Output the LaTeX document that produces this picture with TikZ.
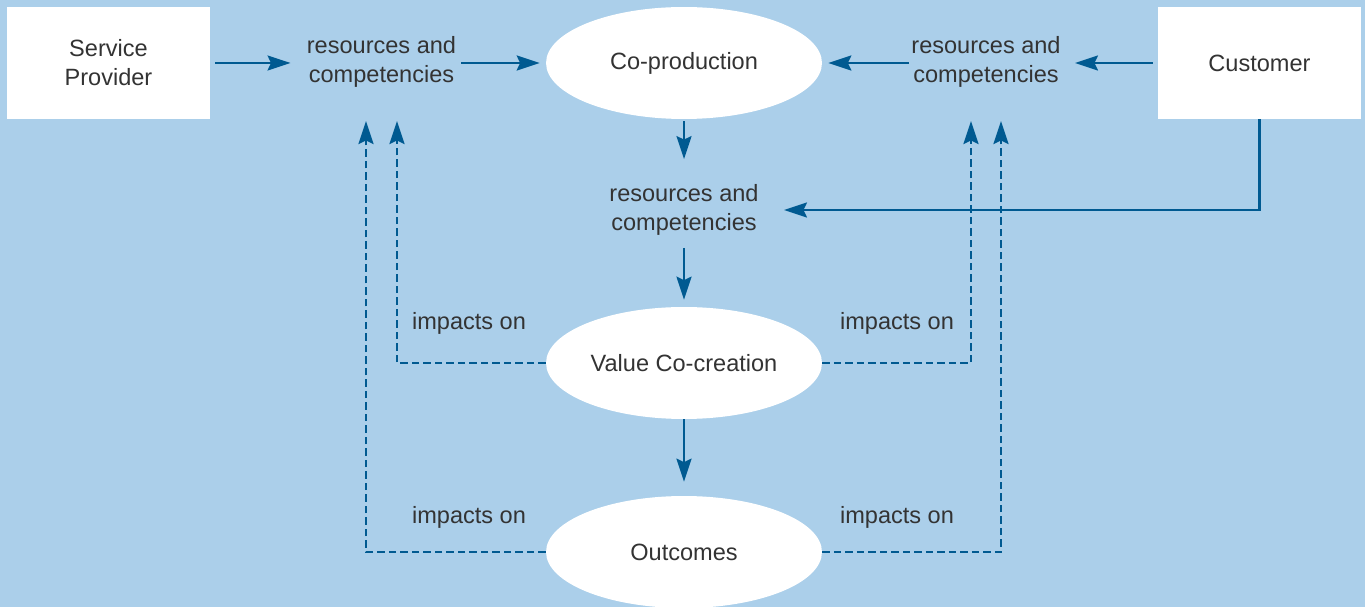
\documentclass[tikz,border=0pt]{standalone}
\usepackage{fontspec}
\setmainfont{Liberation Sans}
\usepackage{tikz}
\usetikzlibrary{arrows.meta, positioning, shapes.geometric}
\definecolor{bgblue}{HTML}{ABCFEA}
\definecolor{flowblue}{HTML}{005A91}
\definecolor{darktext}{HTML}{333333}

\begin{document}
\begin{tikzpicture}[x=0.02cm, y=-0.02cm,
        every node/.style={font=\fontsize{13.4}{16.6}\selectfont, text=darktext},
        actor/.style={fill=white, align=center, minimum width=4.06cm, minimum height=2.24cm, inner sep=0pt},
        stage/.style={ellipse, fill=white, minimum width=5.52cm, minimum height=2.24cm, inner sep=0pt},
        flowtext/.style={align=center, inner xsep=0.1cm, inner ysep=0.1cm},
        flow/.style={-{Stealth[length=0.46cm, width=0.3cm, inset=0.07cm]}, line width=1.4pt, flowblue},
        impact/.style={flow, dash pattern=on 0.15cm off 0.08cm}]
    % backdrop
    \path[use as bounding box, fill=bgblue] (0,0) rectangle (1365,607);

    % parties and stages
    \node[actor] (sp) at (108.5,63) {Service\\Provider};
    \node[actor] (cust) at (1259.5,63) {Customer};
    \node[stage] (coprod) at (684,63) {Co-production};
    \node[stage] (value) at (684,363) {Value Co-creation};
    \node[stage] (outcomes) at (684,552) {Outcomes};

    % resources and competencies
    \node[flowtext] (rcL) at (381.5,62) {resources and\\competencies};
    \node[flowtext] (rcR) at (986,62) {resources and\\competencies};
    \node[flowtext] (rcM) at (684,210) {resources and\\competencies};

    % feedback labels
    \node (impL1) at (469,323) {impacts on};
    \node (impR1) at (897,323) {impacts on};
    \node (impL2) at (469,517) {impacts on};
    \node (impR2) at (897,517) {impacts on};

    % ends of the feedback loops
    \coordinate (tipLi) at (397,121);
    \coordinate (tipLo) at (366,121);
    \coordinate (tipRi) at (971,121);
    \coordinate (tipRo) at (1001,121);

    % main flow
    \draw[flow, shorten <=0.1cm, shorten >=0.22cm] (sp.east) -- (sp.east -| rcL.west);
    \draw[flow, shorten >=0.12cm] (coprod.west -| rcL.east) -- (coprod.west);
    \draw[flow, shorten <=0.1cm, shorten >=0.18cm] (cust.west) -- (cust.west -| rcR.east);
    \draw[flow, shorten <=-0.06cm, shorten >=0.12cm] (coprod.east -| rcR.west) -- (coprod.east);
    \draw[flow, shorten <=0.04cm, shorten >=0.4cm] (coprod.south) -- (rcM.north);
    \draw[flow, shorten <=0.14cm, shorten >=0.14cm] (rcM.south) -- (value.north);
    \draw[flow, shorten >=0.28cm] (value.south) -- (outcomes.north);
    \draw[flow, shorten >=0.4cm] (cust.south) |- (rcM.east);

    % feedback
    \draw[impact] (value.west) -| (tipLi);
    \draw[impact] (outcomes.west) -| (tipLo);
    \draw[impact] (value.east) -| (tipRi);
    \draw[impact] (outcomes.east) -| (tipRo);
\end{tikzpicture}
\end{document}
